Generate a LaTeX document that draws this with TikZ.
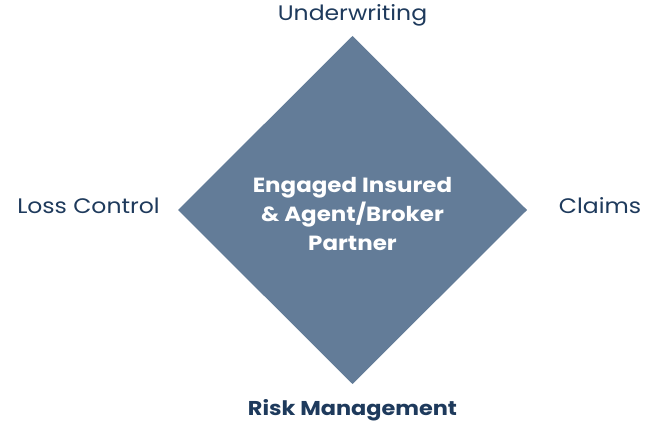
\documentclass[tikz,border=0pt]{standalone}
\usepackage{fontspec}
\setmainfont[FakeStretch=1.12]{Poppins}
\definecolor{slate}{HTML}{637C98}
\definecolor{navy}{HTML}{1E3A5C}
\begin{document}
\begin{tikzpicture}[x=1pt,y=-1pt,
  lab/.style={text=navy,font=\fontsize{21}{24}\selectfont,inner sep=0pt,anchor=base},
  ctr/.style={text=white,font=\fontsize{20.5}{29}\selectfont\bfseries,align=center,inner sep=0pt,anchor=north}]
\useasboundingbox (0,0) rectangle (661,422);
\coordinate (t) at (352.5,36);
\coordinate (r) at (527,210);
\coordinate (b) at (352.5,384);
\coordinate (l) at (178,210);
\fill[slate] (t) -- (r) -- (b) -- (l) -- cycle;
\node[ctr] (c) at (352.5,177) {Engaged Insured\\ \& Agent/Broker\\ Partner};
\node[lab] (u) at (352.5,21) {Underwriting};
\node[lab] (lc) at (88.5,214) {Loss Control};
\node[lab] (cl) at (600,214) {Claims};
\node[lab,font=\fontsize{20}{24}\selectfont\bfseries] (rm) at (352.5,415) {Risk Management};
\end{tikzpicture}
\end{document}
